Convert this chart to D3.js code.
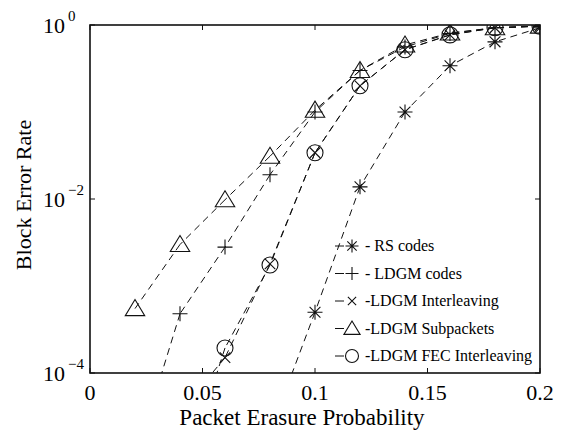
<!DOCTYPE html>
<html>
<head>
<meta charset="utf-8">
<script src="https://cdn.jsdelivr.net/npm/d3@7"></script>
<style>
  body { margin: 0; background: #fff; }
  svg { font-family: "Liberation Serif", "Times New Roman", serif; }
</style>
</head>
<body>
<svg id="chart" width="563" height="431"></svg>
<script>
// erasure probabilities
const pe = [0.02, 0.04, 0.06, 0.08, 0.1, 0.12, 0.14, 0.16, 0.18, 0.2];

// block error rates (null = not simulated)
const rsCodes     = [null, null, null, 2.1e-5, 5.0e-4, 0.0138, 0.10, 0.34, 0.64, 0.93];
const ldgmCodes   = [1.0e-5, 4.8e-4, 2.8e-3, 0.019, 0.10, 0.30, 0.56, 0.80, 0.93, 0.97];
const ldgmInterl  = [null, 3.6e-5, 1.5e-4, 1.8e-3, 0.034, 0.20, 0.52, 0.77, 0.93, 0.97];
const ldgmSubpack = [5.5e-4, 3.0e-3, 9.8e-3, 0.031, 0.105, 0.30, 0.59, 0.81, 0.93, 0.97];
const ldgmFec     = [null, 4.8e-6, 1.94e-4, 1.74e-3, 0.034, 0.20, 0.52, 0.77, 0.93, 0.97];

const xTicks = [0, 0.05, 0.1, 0.15, 0.2];
const xTickLabels = ["0", "0.05", "0.1", "0.15", "0.2"];
const yTicks = [1e-4, 1e-2, 1];
const yTickExp = ["-4", "-2", "0"];

const series = [
  {name: "- RS codes", values: rsCodes, marker: "star"},
  {name: "- LDGM codes", values: ldgmCodes, marker: "plus"},
  {name: "-LDGM Interleaving", values: ldgmInterl, marker: "cross"},
  {name: "-LDGM Subpackets", values: ldgmSubpack, marker: "triangle"},
  {name: "-LDGM FEC Interleaving", values: ldgmFec, marker: "circle"}
];

const svg = d3.select("#chart");
const pLeft = 90, pRight = 540, pTop = 25, pBottom = 373;

const x = d3.scaleLinear().domain([0, 0.2]).range([pLeft, pRight]);
const y = d3.scaleLog().domain([1e-4, 1]).range([pBottom, pTop]);

svg.append("clipPath").attr("id", "clip")
  .append("rect")
  .attr("x", pLeft).attr("y", pTop)
  .attr("width", pRight - pLeft).attr("height", pBottom - pTop);

function markerPath(type, s) {
  // s = half size
  if (type === "star") {
    const d = s * 0.72;
    return `M0,${-s}V${s}M${-s},0H${s}M${-d},${-d}L${d},${d}M${-d},${d}L${d},${-d}`;
  }
  if (type === "plus") return `M0,${-s}V${s}M${-s},0H${s}`;
  if (type === "cross") { const d = s * 0.75; return `M${-d},${-d}L${d},${d}M${-d},${d}L${d},${-d}`; }
  if (type === "triangle") return `M0,${-s}L${s * 1.08},${s * 0.78}H${-s * 1.08}Z`;
  if (type === "circle") return `M${s},0A${s},${s} 0 1,1 ${-s},0A${s},${s} 0 1,1 ${s},0Z`;
}
const markerSize = {star: 7.5, plus: 7.5, cross: 7, triangle: 9, circle: 8};

const plot = svg.append("g").attr("clip-path", "url(#clip)");

const line = d3.line()
  .x(d => x(d.p))
  .y(d => y(d.v));

series.forEach(s => {
  const pts = pe.map((p, i) => ({p: p, v: s.values[i]}));
  // one dashed piece per interval, so overlapping curves keep the same dash phase
  const segs = d3.pairs(pts).filter(([a, b]) => a.v != null && b.v != null);
  plot.selectAll(null)
    .data(segs)
    .enter().append("path")
    .attr("fill", "none")
    .attr("stroke", "#111")
    .attr("stroke-width", 1)
    .attr("stroke-dasharray", "7,5")
    .attr("d", d => line([d[1], d[0]]));
  plot.selectAll(null)
    .data(pts.filter(d => d.v != null))
    .enter().append("path")
    .attr("transform", d => `translate(${x(d.p)},${y(d.v)})`)
    .attr("d", markerPath(s.marker, markerSize[s.marker]))
    .attr("fill", "none")
    .attr("stroke", "#111")
    .attr("stroke-width", 1.1);
});

// axes box
const axisG = svg.append("g");
axisG.append("rect")
  .attr("x", pLeft).attr("y", pTop)
  .attr("width", pRight - pLeft).attr("height", pBottom - pTop)
  .attr("fill", "none").attr("stroke", "#111").attr("stroke-width", 1.6);

const tickLen = 5;
xTicks.forEach((t, i) => {
  axisG.append("line").attr("x1", x(t)).attr("x2", x(t))
    .attr("y1", pBottom).attr("y2", pBottom - tickLen).attr("stroke", "#111");
  axisG.append("line").attr("x1", x(t)).attr("x2", x(t))
    .attr("y1", pTop).attr("y2", pTop + tickLen).attr("stroke", "#111");
  axisG.append("text")
    .attr("x", x(t)).attr("y", pBottom + 27)
    .attr("text-anchor", "middle")
    .attr("font-size", 22)
    .text(xTickLabels[i]);
});

yTicks.forEach((t, i) => {
  axisG.append("line").attr("x1", pLeft).attr("x2", pLeft + tickLen)
    .attr("y1", y(t)).attr("y2", y(t)).attr("stroke", "#111");
  axisG.append("line").attr("x1", pRight).attr("x2", pRight - tickLen)
    .attr("y1", y(t)).attr("y2", y(t)).attr("stroke", "#111");
  const txt = axisG.append("text")
    .attr("x", 43).attr("y", y(t) + 8)
    .attr("font-size", 22);
  txt.append("tspan").text("10");
  txt.append("tspan").attr("dy", -12).attr("font-size", 15).attr("dx", 3)
    .text(yTickExp[i].replace("-", "\u2212"));
});

svg.append("text")
  .attr("x", 302).attr("y", 425)
  .attr("text-anchor", "middle")
  .attr("font-size", 23)
  .text("Packet Erasure Probability");

svg.append("text")
  .attr("transform", "translate(31,195) rotate(-90)")
  .attr("text-anchor", "middle")
  .attr("font-size", 22)
  .text("Block Error Rate");

// legend
const legend = svg.append("g");
const legendSize = {star: 6.5, plus: 6.5, cross: 5.5, triangle: 7.5, circle: 6.5};
series.forEach((s, i) => {
  const ly = 246 + i * 27.5;
  legend.append("line")
    .attr("x1", 335).attr("x2", 344).attr("y1", ly).attr("y2", ly)
    .attr("stroke", "#111");
  legend.append("path")
    .attr("transform", `translate(352,${ly})`)
    .attr("d", markerPath(s.marker, legendSize[s.marker]))
    .attr("fill", "none").attr("stroke", "#111").attr("stroke-width", 1.1);
  legend.append("text")
    .attr("x", 365).attr("y", ly + 5)
    .attr("font-size", 16)
    .text(s.name);
});
</script>
</body>
</html>
